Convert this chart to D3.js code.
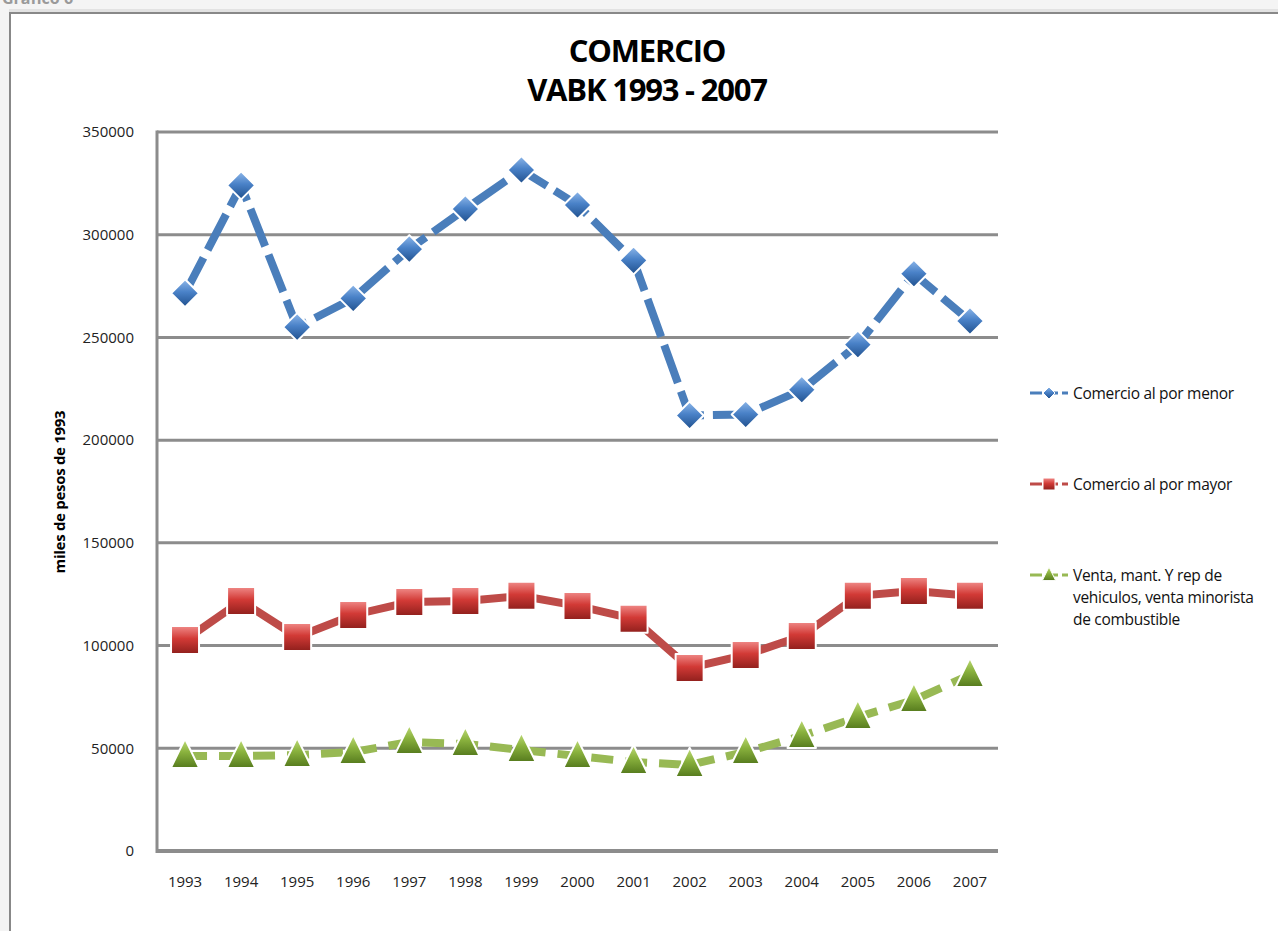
<!DOCTYPE html>
<html>
<head>
<meta charset="utf-8">
<script src="https://cdn.jsdelivr.net/npm/d3@7"></script>
<style>
  body { margin: 0; background: #ffffff; }
  svg { display: block; }
</style>
</head>
<body>
<div id="chart"></div>
<script>
"use strict";

var years = ["1993", "1994", "1995", "1996", "1997", "1998", "1999", "2000",
             "2001", "2002", "2003", "2004", "2005", "2006", "2007"],
    menor = [271500, 324000, 255000, 269000, 293000, 312500, 331500, 314500,
             287500, 212000, 212500, 224500, 246500, 281000, 258000],
    mayor = [102700, 121700, 104200, 114900, 121200, 121700, 124200, 119300,
             113000, 89100, 95400, 104700, 124200, 126600, 124200],
    venta = [46200, 46200, 46700, 48200, 53000, 52100, 49200, 46200,
             43300, 41900, 48200, 56000, 65200, 73500, 85700],
    yTicks = [0, 50000, 100000, 150000, 200000, 250000, 300000, 350000],
    seriesNames = ["Comercio al por menor", "Comercio al por mayor",
                   "Venta, mant. Y rep de vehiculos, venta minorista de combustible"],

    width = 1278,
    height = 931,
    margin = {left: 157, right: 280, top: 132, bottom: 80},
    fontFamily = "'Open Sans', 'DejaVu Sans', sans-serif";

var svg = d3.select("#chart").append("svg")
    .attr("width", width)
    .attr("height", height);

var defs = svg.append("defs");

// marker shading
var makeGrad = function(id, light, mid, dark) {
    var g = defs.append("linearGradient")
        .attr("id", id)
        .attr("x1", 0).attr("y1", 0).attr("x2", 0).attr("y2", 1);
    g.append("stop").attr("offset", "0%").attr("stop-color", light);
    g.append("stop").attr("offset", "45%").attr("stop-color", mid);
    g.append("stop").attr("offset", "100%").attr("stop-color", dark);
};
makeGrad("gBlue", "#8fb8ea", "#4a82c8", "#1f4f8c");
makeGrad("gRed", "#f08a88", "#d23a36", "#8f1f1c");
makeGrad("gGreen", "#c2de7a", "#8ab23e", "#557a1d");

// page frame
svg.append("rect").attr("x", 0).attr("y", 0).attr("width", width).attr("height", 10)
    .attr("fill", "#f4f4f4");
svg.append("rect").attr("x", 0).attr("y", 9).attr("width", width).attr("height", 3)
    .attr("fill", "#e2e2e2");
svg.append("rect").attr("x", 0).attr("y", 0).attr("width", 9).attr("height", height)
    .attr("fill", "#f4f4f4");
svg.append("text")
    .attr("x", 2).attr("y", 4)
    .attr("font-family", fontFamily)
    .attr("font-size", 16)
    .attr("font-weight", "bold")
    .attr("fill", "#9a9a9a")
    .text("Gráfico 6");
svg.append("rect").attr("x", 9).attr("y", 12).attr("width", width - 9).attr("height", 2)
    .attr("fill", "#888888");
svg.append("rect").attr("x", 9).attr("y", 12).attr("width", 2).attr("height", height - 12)
    .attr("fill", "#888888");

var x = d3.scaleBand()
    .domain(years)
    .range([margin.left, width - margin.right]);

var y = d3.scaleLinear()
    .domain([0, 350000])
    .range([height - margin.bottom, margin.top]);

// gridlines
svg.append("g")
    .selectAll("line")
    .data(yTicks)
    .join("line")
    .attr("x1", margin.left)
    .attr("x2", width - margin.right)
    .attr("y1", function(d) { return y(d); })
    .attr("y2", function(d) { return y(d); })
    .attr("stroke", "#8c8c8c")
    .attr("stroke-width", function(d) { return d === 0 ? 4 : 3; });

svg.append("line")
    .attr("x1", margin.left).attr("x2", margin.left)
    .attr("y1", y(350000) - 1.5).attr("y2", y(0) + 2)
    .attr("stroke", "#8c8c8c")
    .attr("stroke-width", 3);

// axes
var yAxis = svg.append("g")
    .attr("transform", "translate(" + (margin.left - 20) + ",0)")
    .call(d3.axisLeft(y).tickValues(yTicks).tickSize(0).tickFormat(d3.format("d")));
yAxis.select(".domain").remove();

var xAxis = svg.append("g")
    .attr("transform", "translate(0," + (y(0) + 22) + ")")
    .call(d3.axisBottom(x).tickSize(0));
xAxis.select(".domain").remove();

svg.selectAll(".tick text")
    .attr("font-family", fontFamily)
    .attr("font-size", 15)
    .attr("fill", "#222");

// titles
svg.append("text")
    .attr("x", 647).attr("y", 62)
    .attr("text-anchor", "middle")
    .attr("font-family", fontFamily)
    .attr("font-size", 31)
    .attr("font-weight", "bold")
    .attr("letter-spacing", -1.2)
    .text("COMERCIO");
svg.append("text")
    .attr("x", 647).attr("y", 101)
    .attr("text-anchor", "middle")
    .attr("font-family", fontFamily)
    .attr("font-size", 31)
    .attr("font-weight", "bold")
    .attr("letter-spacing", -1.2)
    .text("VABK 1993 - 2007");

svg.append("text")
    .attr("transform", "translate(65,492) rotate(-90)")
    .attr("text-anchor", "middle")
    .attr("font-family", fontFamily)
    .attr("font-size", 15)
    .attr("font-weight", "bold")
    .attr("letter-spacing", -0.3)
    .text("miles de pesos de 1993");

// series
var series = [
    {name: seriesNames[0], values: menor, color: "#4a7ebb", dash: "40,9", fill: "url(#gBlue)", shape: "diamond"},
    {name: seriesNames[1], values: mayor, color: "#be4b48", dash: null, fill: "url(#gRed)", shape: "square"},
    {name: seriesNames[2], values: venta, color: "#98b954", dash: "22,12", fill: "url(#gGreen)", shape: "triangle"}
];

var cx = function(i) { return x(years[i]) + x.bandwidth() / 2; };

var line = d3.line()
    .x(function(d, i) { return cx(i); })
    .y(function(d) { return y(d); });

var markerPath = function(shape, s) {
    if (shape === "diamond") {
        return "M0," + (-s) + "L" + s + ",0L0," + s + "L" + (-s) + ",0Z";
    } else if (shape === "square") {
        return "M" + (-s) + "," + (-s) + "H" + s + "V" + s + "H" + (-s) + "Z";
    }
    return "M0," + (-s * 1.15) + "L" + (s * 0.95) + "," + (s * 0.8) + "L" + (-s * 0.95) + "," + (s * 0.8) + "Z";
};
var markerSize = {diamond: 14, square: 14, triangle: 15};

series.forEach(function(s) {
    svg.append("path")
        .datum(s.values)
        .attr("d", line)
        .attr("fill", "none")
        .attr("stroke", s.color)
        .attr("stroke-width", 8)
        .attr("stroke-dasharray", s.dash);

    svg.append("g")
        .selectAll("path")
        .data(s.values)
        .join("path")
        .attr("transform", function(d, i) { return "translate(" + cx(i) + "," + y(d) + ")"; })
        .attr("d", markerPath(s.shape, markerSize[s.shape]))
        .attr("fill", s.fill)
        .attr("stroke", "#ffffff")
        .attr("stroke-width", 2)
        .attr("stroke-linejoin", "round");
});

// legend
var legendRows = [
    {y: 393, lines: ["Comercio al por menor"]},
    {y: 484, lines: ["Comercio al por mayor"]},
    {y: 575, lines: ["Venta, mant. Y rep de", "vehiculos, venta minorista", "de combustible"]}
];

var legend = svg.append("g");
legendRows.forEach(function(row, k) {
    var s = series[k],
        g = legend.append("g").attr("transform", "translate(1030," + row.y + ")");
    g.append("line")
        .attr("x1", 0).attr("x2", 38)
        .attr("y1", 0).attr("y2", 0)
        .attr("stroke", s.color)
        .attr("stroke-width", 3)
        .attr("stroke-dasharray", "12,4");
    g.append("path")
        .attr("transform", "translate(19,0)")
        .attr("d", markerPath(s.shape, s.shape === "triangle" ? 7 : 6))
        .attr("fill", s.fill)
        .attr("stroke", "#fff")
        .attr("stroke-width", 1);
    var t = g.append("text")
        .attr("x", 43)
        .attr("y", 6)
        .attr("font-family", fontFamily)
        .attr("font-size", 15.5)
        .attr("letter-spacing", -0.3)
        .attr("fill", "#111");
    row.lines.forEach(function(l, j) {
        t.append("tspan").attr("x", 43).attr("dy", j === 0 ? 0 : 22).text(l);
    });
});
</script>
</body>
</html>
